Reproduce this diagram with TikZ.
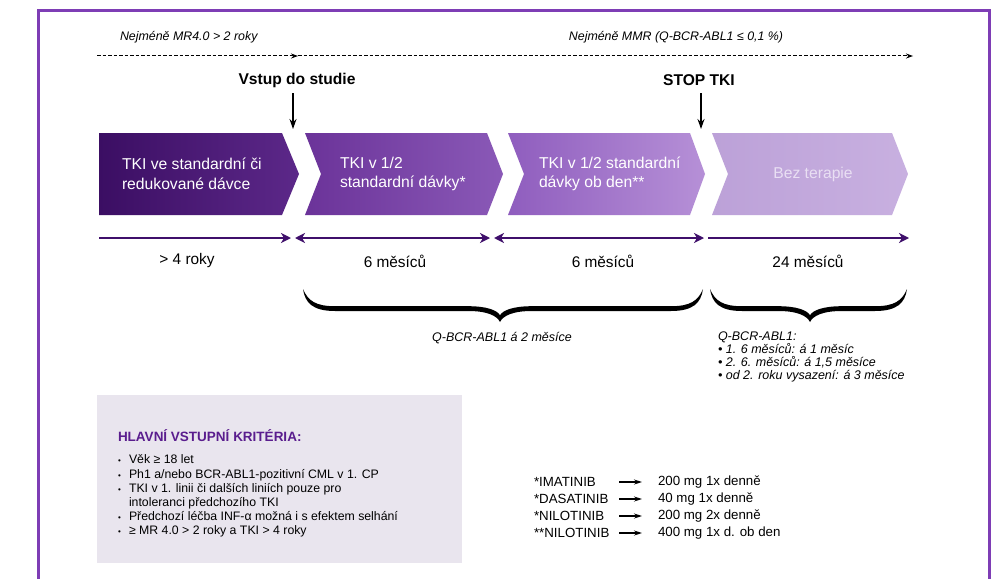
\documentclass[tikz,border=0pt]{standalone}
\usepackage{fontspec}
\setmainfont{Liberation Sans}
\usetikzlibrary{arrows.meta}
\definecolor{framec}{HTML}{7E3DB5}
\definecolor{cha}{HTML}{3B0E63}
\definecolor{chb}{HTML}{5C2889}
\definecolor{chc}{HTML}{6B3399}
\definecolor{chd}{HTML}{8A59B7}
\definecolor{che}{HTML}{8F5DBE}
\definecolor{chf}{HTML}{B690D7}
\definecolor{chg}{HTML}{BCA1D8}
\definecolor{chh}{HTML}{C8B0E0}
\definecolor{chtext}{HTML}{E9DFF3}
\definecolor{tline}{HTML}{3F0F6B}
\definecolor{boxbg}{HTML}{E9E5EE}
\definecolor{titlec}{HTML}{5A1D8E}
\tikzset{thead/.tip={Stealth[length=10pt,width=10pt,inset=3pt]}}
\newcommand{\calbrace}[4]{%
  \fill[black] (#1,#4) .. controls ({#1+2},{#4-14}) and ({#1+10},{#4-22}) .. ({#1+32},{#4-22})
    -- ({#3-32},{#4-22}) .. controls ({#3-12},{#4-22}) and ({#3-3},{#4-27}) .. (#3,{#4-33})
    .. controls ({#3+3},{#4-27}) and ({#3+12},{#4-22}) .. ({#3+32},{#4-22})
    -- ({#2-32},{#4-22}) .. controls ({#2-10},{#4-22}) and ({#2-2},{#4-14}) .. (#2,#4)
    .. controls ({#2-5},{#4-12}) and ({#2-13},{#4-17.2}) .. ({#2-32},{#4-17.2})
    -- ({#3+32},{#4-17.2}) .. controls ({#3+13},{#4-17.2}) and ({#3+3},{#4-21.2}) .. (#3,{#4-26.2})
    .. controls ({#3-3},{#4-21.2}) and ({#3-13},{#4-17.2}) .. ({#3-32},{#4-17.2})
    -- ({#1+32},{#4-17.2}) .. controls ({#1+13},{#4-17.2}) and ({#1+5},{#4-12}) .. (#1,#4) -- cycle;}
\newcommand{\blt}{\makebox[13pt][l]{\hspace{2pt}{\fontsize{8}{8}\selectfont•}}}
\begin{document}
\begin{tikzpicture}[x=1pt,y=1pt,
  txt/.style={inner sep=0pt, outer sep=0pt},
  toplabel/.style={txt, font=\fontsize{12.4}{14}\selectfont\itshape},
  headlabel/.style={txt, font=\fontsize{15.6}{18}\selectfont\bfseries},
  chevtext/.style={txt, anchor=west, align=left, text=white, font=\fontsize{15.7}{19.5}\selectfont},
  durlabel/.style={txt, font=\fontsize{15.4}{18}\selectfont},
  dashline/.style={black, line width=1pt, dash pattern=on 3.5pt off 2pt, -{Stealth[length=7pt,width=5pt]}},
  downarrow/.style={black, line width=1.3pt, -{Stealth[length=10pt,width=7pt]}},
  tarrow/.style={tline, line width=2.6pt},
  smalltext/.style={txt, font=\fontsize{12.5}{13}\selectfont\itshape, align=left},
  crittext/.style={txt, font=\fontsize{12.3}{14.2}\selectfont, align=left},
  drugtext/.style={txt, anchor=west, font=\fontsize{13.3}{15}\selectfont},
  drugarrow/.style={black, line width=1.1pt, -{Stealth[length=8pt,width=5pt]}}
]
\useasboundingbox (0,0) rectangle (992,-578);
\fill[white] (0,0) rectangle (992,-578);
\draw[framec, line width=3pt] (38,-11) rectangle (989,-640);

% top labels and dashed timeline
\node[toplabel, anchor=west] (mr4) at (120,-37) {Nejméně MR4.0 > 2 roky};
\node[toplabel] (mmr) at (676,-37) {Nejméně MMR (Q-BCR-ABL1 ≤ 0,1 \%)};
\coordinate (d0) at (97,-56);
\coordinate (d1) at (298,-56);
\coordinate (d2) at (913,-56);
\draw[dashline] (d0) -- (d1);
\draw[dashline] (d1) -- (d2);

% headings with arrows
\node[headlabel] (vstup) at (297,-80) {Vstup do studie};
\node[headlabel] (stop) at (699,-80) {STOP TKI};
\coordinate (va) at (293,-129);
\coordinate (sa) at (701,-129);
\draw[downarrow] (293,-93) -- (va);
\draw[downarrow] (701,-93) -- (sa);

% chevrons
\shade[left color=cha, right color=chb] (99,-133) -- (282,-133) -- (299,-174) -- (282,-215) -- (99,-215) -- cycle;
\shade[left color=chc, right color=chd] (305,-133) -- (487,-133) -- (503,-174) -- (487,-215) -- (305,-215) -- (321,-174) -- cycle;
\shade[left color=che, right color=chf] (508,-133) -- (690,-133) -- (705,-174) -- (690,-215) -- (508,-215) -- (524,-174) -- cycle;
\shade[left color=chg, right color=chh] (712,-133) -- (892,-133) -- (908,-174) -- (892,-215) -- (712,-215) -- (728,-174) -- cycle;
\node[chevtext] (c1) at (122,-174) {TKI ve standardní či\\redukované dávce};
\node[chevtext] (c2) at (340,-174) {TKI v 1/2\\standardní dávky*};
\node[chevtext] (c3) at (539,-174) {TKI v 1/2 standardní\\dávky ob den**};
\node[chevtext, anchor=center, text=chtext] (c4) at (813,-174) {Bez terapie};

% duration arrows
\coordinate (t0) at (99,-238);
\coordinate (t1) at (291,-238);
\coordinate (t2) at (295,-238);
\coordinate (t3) at (490,-238);
\coordinate (t4) at (494,-238);
\coordinate (t5) at (704,-238);
\coordinate (t6) at (708,-238);
\coordinate (t7) at (909,-238);
\draw[tarrow, -thead] (t0) -- (t1);
\draw[tarrow, thead-thead] (t2) -- (t3);
\draw[tarrow, thead-thead] (t4) -- (t5);
\draw[tarrow, -thead] (t6) -- (t7);
\node[durlabel] (l1) at (187,-261) {> 4 roky};
\node[durlabel] (l2) at (395,-261) {6 měsíců};
\node[durlabel] (l3) at (603,-261) {6 měsíců};
\node[durlabel] (l4) at (808,-261) {24 měsíců};

% braces
\calbrace{303}{703}{500}{-289}
\calbrace{710}{907}{810}{-289}
\node[smalltext] (q1) at (502,-338) {Q-BCR-ABL1 á 2 měsíce};
\node[smalltext, anchor=north west] (q2) at (718,-332) {Q-BCR-ABL1:\\• 1. 6 měsíců: á 1 měsíc\\• 2. 6. měsíců: á 1,5 měsíce\\• od 2. roku vysazení: á 3 měsíce};

% criteria box
\fill[boxbg] (97,-395) rectangle (462,-563);
\node[txt, anchor=west, text=titlec, font=\fontsize{13.5}{15}\selectfont\bfseries] (crit) at (118,-436) {HLAVNÍ VSTUPNÍ KRITÉRIA:};
\node[crittext, anchor=north west] (critlist) at (116,-455) {%
\blt Věk ≥ 18 let\\
\blt Ph1 a/nebo BCR-ABL1-pozitivní CML v 1. CP\\
\blt TKI v 1. linii či dalších liniích pouze pro\\
\hspace*{13pt}intoleranci předchozího TKI\\
\blt Předchozí léčba INF-α možná i s efektem selhání\\
\blt ≥ MR 4.0 > 2 roky a TKI > 4 roky};

% drugs
\node[drugtext] (n1) at (534,-482) {*IMATINIB};
\node[drugtext] (n2) at (534,-499) {*DASATINIB};
\node[drugtext] (n3) at (534,-516) {*NILOTINIB};
\node[drugtext] (n4) at (534,-533) {**NILOTINIB};
\node[drugtext] (v1) at (658,-482) {200 mg 1x denně};
\node[drugtext] (v2) at (658,-499) {40 mg 1x denně};
\node[drugtext] (v3) at (658,-516) {200 mg 2x denně};
\node[drugtext] (v4) at (658,-533) {400 mg 1x d. ob den};
\coordinate (s1) at (619,-482);
\coordinate (s2) at (619,-499);
\coordinate (s3) at (619,-516);
\coordinate (s4) at (619,-533);
\draw[drugarrow, shorten >=16pt] (s1) -- (v1.west);
\draw[drugarrow, shorten >=16pt] (s2) -- (v2.west);
\draw[drugarrow, shorten >=16pt] (s3) -- (v3.west);
\draw[drugarrow, shorten >=16pt] (s4) -- (v4.west);
\end{tikzpicture}
\end{document}
